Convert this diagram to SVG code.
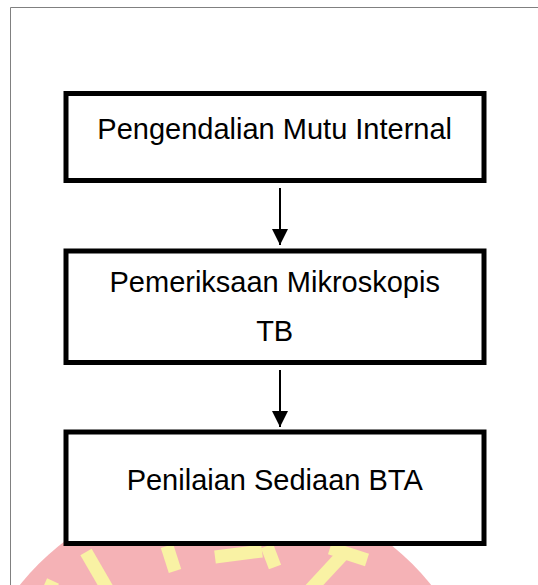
<svg xmlns="http://www.w3.org/2000/svg" width="538" height="585" viewBox="0 0 538 585">
  <defs>
    <style>
      .box { fill: #ffffff; stroke: #000000; stroke-width: 5; }
      .label { font-family: "Liberation Sans", Arial, sans-serif; font-size: 29px; fill: #000000; text-anchor: middle; }
      .conn { stroke: #000000; stroke-width: 2; fill: none; }
      .wm-bar { stroke: #f9f2a4; stroke-width: 13; fill: none; }
    </style>
    <marker id="arrow" viewBox="0 0 16 16" refX="16" refY="8" markerWidth="16" markerHeight="16" markerUnits="userSpaceOnUse" orient="auto">
      <path d="M0,0 L16,8 L0,16 z" fill="#000000"/>
    </marker>
  </defs>

  <rect x="0" y="0" width="538" height="585" fill="#ffffff"/>

  <!-- watermark -->
  <g id="watermark">
    <circle cx="225.5" cy="750.5" r="264" fill="#f5b2b6"/>
    <line class="wm-bar" x1="86" y1="552" x2="108" y2="590"/>
    <line class="wm-bar" x1="53" y1="581" x2="49" y2="590" stroke-width="10"/>
    <line class="wm-bar" x1="167" y1="546" x2="175" y2="571"/>
    <line class="wm-bar" x1="215" y1="557" x2="262" y2="551"/>
    <line class="wm-bar" x1="267" y1="546" x2="275" y2="567"/>
    <line class="wm-bar" x1="330" y1="548" x2="367" y2="560"/>
    <line class="wm-bar" x1="347" y1="550" x2="308" y2="592"/>
  </g>

  <!-- page frame -->
  <g id="frame">
    <path d="M10.5,585 L10.5,7.5 L538,7.5" fill="none" stroke="#808080" stroke-width="1"/>
  </g>

  <g id="connectors">
    <line class="conn" x1="280" y1="188" x2="280" y2="245" marker-end="url(#arrow)"/>
    <line class="conn" x1="280" y1="370" x2="280" y2="427" marker-end="url(#arrow)"/>
  </g>

  <g id="node1">
    <rect class="box" x="66" y="93.5" width="418" height="87"/>
    <text class="label" x="274.7" y="139">Pengendalian Mutu Internal</text>
  </g>

  <g id="node2">
    <rect class="box" x="66" y="251" width="418" height="111.5"/>
    <text class="label" x="274.7" y="291.5">Pemeriksaan Mikroskopis</text>
    <text class="label" x="274.7" y="340.5">TB</text>
  </g>

  <g id="node3">
    <rect class="box" x="66" y="432" width="418" height="111.5"/>
    <text class="label" x="274.7" y="490">Penilaian Sediaan BTA</text>
  </g>
</svg>
